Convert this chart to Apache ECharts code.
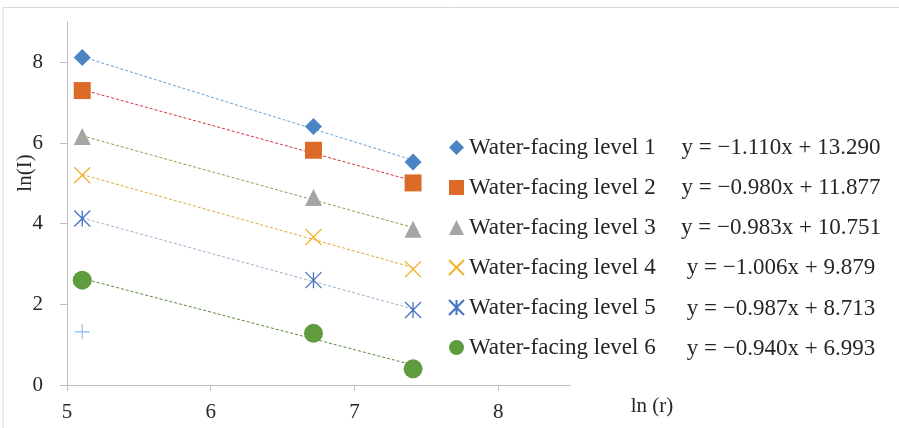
<!DOCTYPE html>
<html>
<head>
<meta charset="utf-8">
<script src="https://cdn.jsdelivr.net/npm/echarts@6/dist/echarts.min.js"></script>
<style>
  html, body { margin: 0; padding: 0; background: #fff; }
  #chart { width: 899px; height: 428px; }
</style>
</head>
<body>
<div id="chart"></div>
<script>
// ln(r) positions shared by all levels
const lnR = [5.106, 6.715, 7.408];

// ln(I) per water-facing level
const level1 = [8.12, 6.41, 5.53];
const level2 = [7.30, 5.82, 5.01];
const level3 = [6.16, 4.65, 3.86];
const level4 = [5.20, 3.67, 2.87];
const level5 = [4.13, 2.60, 1.86];
const level6 = [2.60, 1.28, 0.40];

// stray point (not listed in the legend)
const extraR = [5.106];
const extraLnI = [1.32];

const seriesNames = [
  'Water-facing level 1', 'Water-facing level 2', 'Water-facing level 3',
  'Water-facing level 4', 'Water-facing level 5', 'Water-facing level 6'
];
const equations = [
  'y = \u22121.110x + 13.290',
  'y = \u22120.980x + 11.877',
  'y = \u22120.983x + 10.751',
  'y = \u22121.006x + 9.879',
  'y = \u22120.987x + 8.713',
  'y = \u22120.940x + 6.993'
];
const xTicks = [5, 6, 7, 8];
const yTicks = [0, 2, 4, 6, 8];

const levels = [level1, level2, level3, level4, level5, level6];

const SERIF = '"Liberation Serif", "Times New Roman", "DejaVu Serif", serif';
const TEXT = '#262626';

const markerColors = ['#4A84C2', '#DC6B2A', '#A5A5A5', '#F0B42C', '#4472C4', '#5E9C3E'];
const trendColors = ['#6C9ED6', '#D8343C', '#86A34E', '#DDA83A', '#9FB0CC', '#5A8A3C'];
const symbols = [
  'diamond',
  'rect',
  'triangle',
  'path://M0,0L10,10M10,0L0,10',
  'path://M0,0L10,10M10,0L0,10M5,0L5,10',
  'circle'
];
const symbolSizes = [17, 17, 17, 16, 16, 19];
const strokeOnly = [false, false, false, true, true, false];

// least-squares fit through the points of one level
function fit(xs, ys) {
  const n = xs.length;
  const mx = xs.reduce((a, b) => a + b, 0) / n;
  const my = ys.reduce((a, b) => a + b, 0) / n;
  let sxy = 0, sxx = 0;
  for (let i = 0; i < n; i++) {
    sxy += (xs[i] - mx) * (ys[i] - my);
    sxx += (xs[i] - mx) * (xs[i] - mx);
  }
  const slope = sxy / sxx;
  return { slope, intercept: my - slope * mx };
}

const series = [];
const xMin = Math.min(...lnR), xMax = Math.max(...lnR);

levels.forEach((vals, i) => {
  const f = fit(lnR, vals);
  series.push({
    name: seriesNames[i] + ' trend',
    type: 'line',
    silent: true,
    showSymbol: false,
    symbol: 'none',
    z: 1,
    lineStyle: { color: trendColors[i], width: 1, type: [3, 2] },
    data: [[xMin, f.slope * xMin + f.intercept], [xMax, f.slope * xMax + f.intercept]]
  });
});

levels.forEach((vals, i) => {
  series.push({
    name: seriesNames[i],
    type: 'scatter',
    z: 3,
    symbol: symbols[i],
    symbolSize: symbolSizes[i],
    itemStyle: strokeOnly[i]
      ? { color: markerColors[i], borderColor: markerColors[i], borderWidth: 1.3, opacity: 1 }
      : { color: markerColors[i], borderWidth: 0, opacity: 1 },
    data: lnR.map((x, k) => [x, vals[k]])
  });
});

series.push({
  name: 'extra',
  type: 'scatter',
  z: 3,
  symbol: 'path://M5,0L5,10M0,5L10,5',
  symbolSize: 15,
  itemStyle: { color: '#9DC3E6', borderColor: '#9DC3E6', borderWidth: 1.3, opacity: 1 },
  data: extraR.map((x, k) => [x, extraLnI[k]])
});

const eqRows = [148, 188, 228, 268, 309, 349];
const graphic = [
  {
    type: 'rect', silent: true, z: -1,
    shape: { x: 3, y: 7.5, width: 910, height: 440 },
    style: { fill: 'none', stroke: '#D9D9D9', lineWidth: 1 }
  },
  {
    type: 'text', x: 25, y: 173, rotation: Math.PI / 2,
    style: { text: 'ln(I)', font: '21px ' + SERIF, fill: TEXT, align: 'center', verticalAlign: 'middle' }
  },
  {
    type: 'text', x: 652, y: 406,
    style: { text: 'ln (r)', font: '21px ' + SERIF, fill: TEXT, align: 'center', verticalAlign: 'middle' }
  }
].concat(equations.map((eq, i) => ({
  type: 'text', x: 781, y: eqRows[i],
  style: { text: eq, font: '23px ' + SERIF, fill: TEXT, align: 'center', verticalAlign: 'middle' }
})));

const chart = echarts.init(document.getElementById('chart'), null, { renderer: 'canvas' });
chart.setOption({
  animation: false,
  backgroundColor: '#ffffff',
  grid: { left: 67, right: 329, top: 22, bottom: 43, containLabel: false },
  xAxis: {
    type: 'value', min: 5, max: 8.5,
    splitLine: { show: false },
    axisLine: { show: true, lineStyle: { color: '#BFBFBF', width: 1 } },
    axisTick: { show: true, length: 6, lineStyle: { color: '#BFBFBF' }, customValues: xTicks },
    axisLabel: { margin: 17, fontFamily: SERIF, fontSize: 21, color: TEXT, customValues: xTicks }
  },
  yAxis: {
    type: 'value', min: 0, max: 9,
    splitLine: { show: false },
    axisLine: { show: true, lineStyle: { color: '#BFBFBF', width: 1 } },
    axisTick: { show: true, length: 7, lineStyle: { color: '#BFBFBF' }, customValues: yTicks },
    axisLabel: { margin: 24, fontFamily: SERIF, fontSize: 21, color: TEXT, customValues: yTicks }
  },
  legend: {
    data: seriesNames,
    orient: 'vertical',
    left: 448, top: 136,
    padding: 0,
    itemGap: 17,
    itemWidth: 15, itemHeight: 15,
    textStyle: { fontFamily: SERIF, fontSize: 23, color: TEXT, padding: [0, 0, 0, 0] }
  },
  graphic: graphic,
  series: series
});
</script>
</body>
</html>
